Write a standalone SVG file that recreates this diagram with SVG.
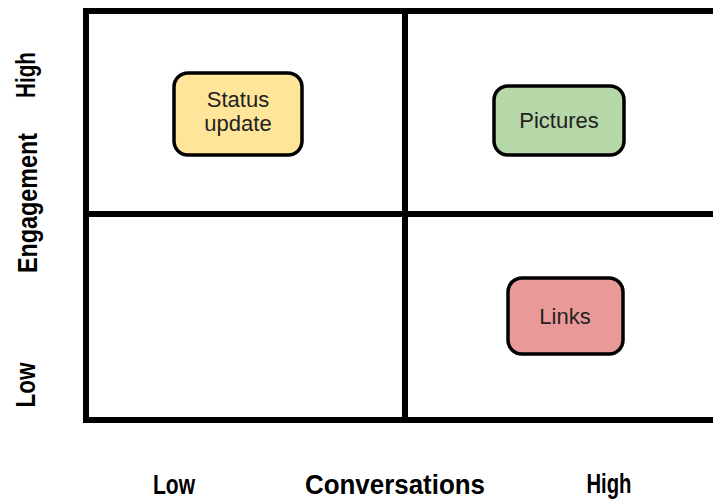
<svg xmlns="http://www.w3.org/2000/svg" width="713" height="502" viewBox="0 0 713 502">
<style>
.grid{fill:none;stroke:#000;stroke-width:6;stroke-linejoin:miter}
.node{stroke:#000;stroke-width:3.5}
.lbl{font-family:"Liberation Sans",Arial,sans-serif;font-size:22px;fill:#222;text-anchor:middle}
.axis{font-family:"Liberation Sans",Arial,sans-serif;font-size:28px;font-weight:bold;fill:#000;text-anchor:middle}
</style>
<rect width="713" height="502" fill="#fff"/>
<g id="connectors">
<rect class="grid" x="86" y="11" width="640" height="409"/>
<line class="grid" x1="405" y1="11" x2="405" y2="420"/>
<line class="grid" x1="86" y1="214" x2="726" y2="214"/>
</g>
<g id="node-status">
<rect class="node" x="174" y="73" width="128" height="82" rx="14" fill="#ffe599"/>
<text class="lbl" x="238" y="107">Status</text>
<text class="lbl" x="238" y="131">update</text>
</g>
<g id="node-pictures">
<rect class="node" x="494" y="86" width="130" height="69" rx="14" fill="#b6d7a8"/>
<text class="lbl" x="559" y="128">Pictures</text>
</g>
<g id="node-links">
<rect class="node" x="508" y="278" width="115" height="76" rx="14" fill="#ea9999"/>
<text class="lbl" x="565" y="324">Links</text>
</g>
<g id="axis-labels">
<text class="axis" transform="translate(35,75) rotate(-90)" textLength="46" lengthAdjust="spacingAndGlyphs">High</text>
<text class="axis" transform="translate(37,203) rotate(-90)" textLength="140" lengthAdjust="spacingAndGlyphs">Engagement</text>
<text class="axis" transform="translate(35,385) rotate(-90)" textLength="45" lengthAdjust="spacingAndGlyphs">Low</text>
<text class="axis" x="174" y="494" textLength="42" lengthAdjust="spacingAndGlyphs">Low</text>
<text class="axis" x="395" y="494" textLength="180" lengthAdjust="spacingAndGlyphs">Conversations</text>
<text class="axis" x="609" y="493" textLength="45" lengthAdjust="spacingAndGlyphs">High</text>
</g>
</svg>
